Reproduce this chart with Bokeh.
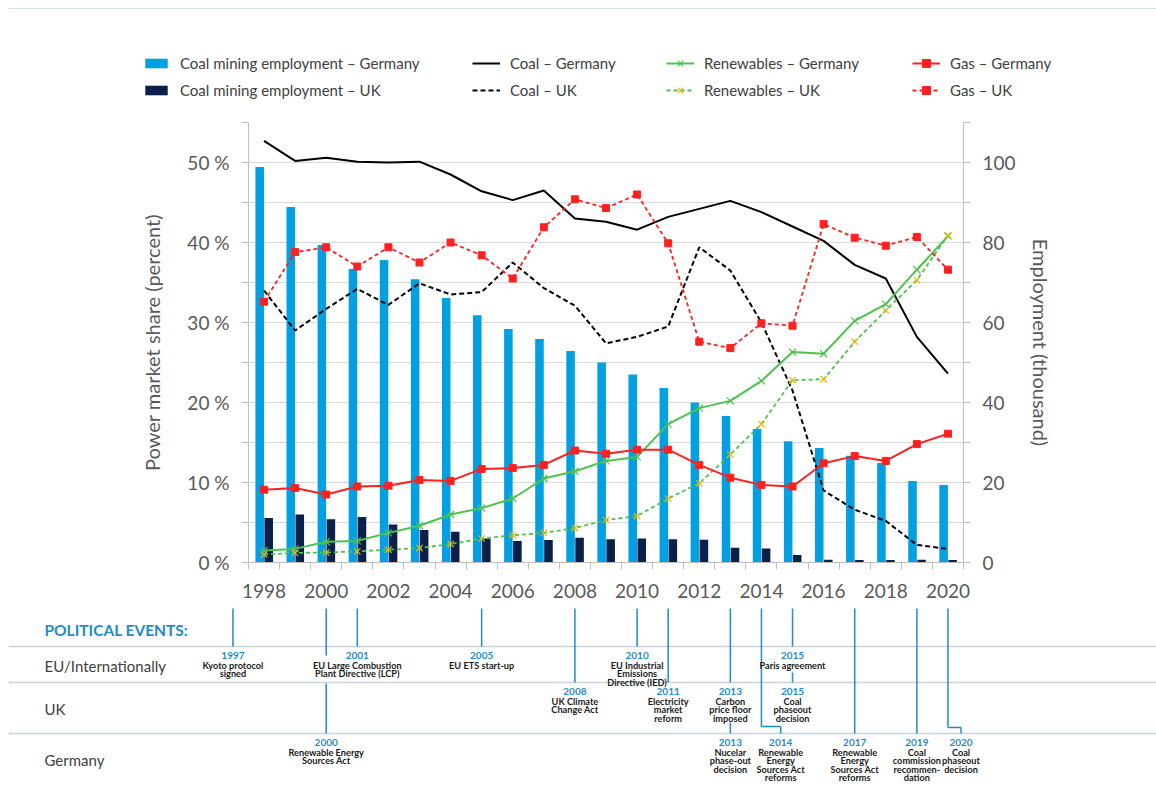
from bokeh.plotting import figure
from bokeh.models import (Range1d, LinearAxis, FixedTicker, Legend, LegendItem,
                          PrintfTickFormatter, ColumnDataSource)
from bokeh.transform import dodge
from bokeh.embed import file_html
from bokeh.resources import INLINE
from bokeh.core.properties import value

# ---------------- data ----------------
years = list(range(1998, 2021))
coal_de = [52.7, 50.2, 50.6, 50.1, 50.0, 50.1, 48.5, 46.4, 45.3, 46.5, 43.0, 42.6,
           41.6, 43.2, 44.2, 45.2, 43.8, 42.0, 40.2, 37.2, 35.5, 28.2, 23.6]
coal_uk = [34.0, 29.0, 31.7, 34.2, 32.2, 34.9, 33.5, 33.8, 37.5, 34.3, 32.1, 27.4,
           28.2, 29.5, 39.4, 36.5, 30.0, 21.5, 9.0, 6.6, 5.2, 2.2, 1.7]
ren_de = [1.5, 1.7, 2.6, 2.7, 3.7, 4.6, 6.0, 6.8, 8.0, 10.5, 11.4, 12.7,
          13.2, 17.3, 19.3, 20.2, 22.7, 26.3, 26.1, 30.2, 32.3, 36.6, 40.8]
ren_uk = [1.0, 1.2, 1.25, 1.4, 1.6, 1.8, 2.3, 3.0, 3.4, 3.7, 4.3, 5.3,
          5.8, 8.0, 9.9, 13.5, 17.3, 22.8, 22.9, 27.6, 31.5, 35.3, 40.9]
gas_de = [9.1, 9.3, 8.5, 9.5, 9.6, 10.3, 10.2, 11.7, 11.8, 12.2, 14.0, 13.6,
          14.1, 14.1, 12.2, 10.6, 9.7, 9.5, 12.4, 13.3, 12.7, 14.8, 16.1]
gas_uk = [32.6, 38.8, 39.4, 37.0, 39.4, 37.5, 40.0, 38.4, 35.5, 41.9, 45.4, 44.3,
          46.0, 39.9, 27.6, 26.8, 29.9, 29.6, 42.3, 40.6, 39.6, 40.7, 36.6]
emp_de = [98.9, 88.9, 79.4, 73.4, 75.6, 70.8, 66.1, 61.8, 58.4, 55.9, 52.9, 50.0,
          47.0, 43.6, 40.0, 36.6, 33.4, 30.3, 28.6, 26.7, 24.9, 20.4, 19.4]
emp_uk = [11.1, 12.0, 10.8, 11.4, 9.5, 8.1, 7.7, 6.0, 5.4, 5.6, 6.2, 5.8,
          6.0, 5.8, 5.7, 3.7, 3.5, 1.9, 0.7, 0.6, 0.6, 0.7, 0.6]

share_ticks = [0, 10, 20, 30, 40, 50]
emp_ticks = [0, 20, 40, 60, 80, 100]
year_labels = years[::2]

ev_year = [1997, 2001, 2005, 2010, 2015,
           2008, 2011, 2013, 2015,
           2000, 2013, 2014, 2017, 2019, 2020]
ev_row = ["EU", "EU", "EU", "EU", "EU",
          "UK", "UK", "UK", "UK",
          "DE", "DE", "DE", "DE", "DE", "DE"]
ev_text = ["Kyoto protocol\nsigned",
           "EU Large Combustion\nPlant Directive (LCP)",
           "EU ETS start-up",
           "EU Industrial\nEmissions\nDirective (IED)",
           "Paris agreement",
           "UK Climate\nChange Act",
           "Electricity\nmarket\nreform",
           "Carbon\nprice floor\nimposed",
           "Coal\nphaseout\ndecision",
           "Renewable Energy\nSources Act",
           "Nucelar\nphase-out\ndecision",
           "Renewable\nEnergy\nSources Act\nreforms",
           "Renewable\nEnergy\nSources Act\nreforms",
           "Coal\ncommission\nrecommen-\ndation",
           "Coal\nphaseout\ndecision"]
row_keys = ["EU", "UK", "DE"]
row_names = ["EU/Internationally", "UK", "Germany"]

# ---------------- style / layout ----------------
FONT = "Lato"
TXT = "#595959"
DARK = "#404040"
AXC = "#bfbfbf"
GRID = "#d9d9d9"
BLUE_DE = "#00a0e3"
NAVY_UK = "#0b1f4b"
GREEN = "#4dc34d"
YELLOW = "#f0b400"
RED = "#ff2020"
EVBLUE = "#1f8cc6"
FRAME = "#d3e6ec"

W = 1156
H0 = 110             # legend strip
H1 = 490             # main chart
H2 = 200             # events strip
BL, BR, BT, BB = 248, 193, 12, 36
X0, X1 = 1997.5, 2020.5
PXY = (W - BL - BR) / (X1 - X0)

src = ColumnDataSource(dict(year=years, coal_de=coal_de, coal_uk=coal_uk,
                            ren_de=ren_de, ren_uk=ren_uk, gas_de=gas_de,
                            gas_uk=gas_uk, emp_de=emp_de, emp_uk=emp_uk))

# ---------------- main chart ----------------
p = figure(width=W, height=H1, x_range=Range1d(X0, X1), y_range=Range1d(0, 55),
           min_border_left=BL, min_border_right=BR, min_border_top=BT,
           min_border_bottom=BB, toolbar_location=None, output_backend="svg",
           outline_line_color=None)
p.extra_y_ranges = {"emp": Range1d(0, 110)}

xa = p.xaxis[0]
xa.ticker = FixedTicker(ticks=year_labels,
                        minor_ticks=[y - 0.5 for y in years] + [years[-1] + 0.5])
xa.major_tick_out = 0
xa.major_tick_in = 0
xa.minor_tick_out = 7
xa.minor_tick_in = 0
xa.axis_line_color = AXC
xa.minor_tick_line_color = AXC
xa.major_label_text_font = FONT
xa.major_label_text_font_size = "19px"
xa.major_label_text_color = TXT
xa.major_label_standoff = 14

ya = p.yaxis[0]
ya.ticker = FixedTicker(ticks=share_ticks, minor_ticks=[5, 15, 25, 35, 45, 55])
ya.formatter = PrintfTickFormatter(format="%d %%")
ya.axis_label = "Power market share (percent)"

ra = LinearAxis(y_range_name="emp",
                ticker=FixedTicker(ticks=emp_ticks, minor_ticks=[10, 30, 50, 70, 90, 110]),
                axis_label="Employment (thousand)")
p.add_layout(ra, "right")

for ax in (ya, ra):
    ax.major_tick_out = 7
    ax.major_tick_in = 0
    ax.minor_tick_out = 7
    ax.minor_tick_in = 0
    ax.axis_line_color = AXC
    ax.major_tick_line_color = AXC
    ax.minor_tick_line_color = AXC
    ax.major_label_text_font = FONT
    ax.major_label_text_font_size = "19px"
    ax.major_label_text_color = TXT
    ax.axis_label_text_font = FONT
    ax.axis_label_text_font_size = "20px"
    ax.axis_label_text_font_style = "normal"
    ax.axis_label_text_color = TXT
    ax.major_label_standoff = 12
ya.axis_label_standoff = 20
ra.axis_label_standoff = 10

p.xgrid.visible = False
p.ygrid.ticker = FixedTicker(ticks=list(range(0, 55, 5)))
p.ygrid.grid_line_color = GRID

BAR_DE = dict(fill_color=BLUE_DE, line_color=None)
BAR_UK = dict(fill_color=NAVY_UK, line_color=None)
COAL_DE = dict(line_color="black", line_width=2)
COAL_UK = dict(line_color="black", line_width=2, line_dash="5 3")
REN_DE = dict(line_color=GREEN, line_width=2)
REN_UK = dict(line_color=GREEN, line_width=1.8, line_dash="4 3")
GAS_DE = dict(line_color=RED, line_width=2)
GAS_UK = dict(line_color=RED, line_width=1.8, line_dash="4 3")
MK_REN_DE = dict(marker="x", size=10, line_color=GREEN, line_width=1.2)
MK_REN_UK = dict(marker="x", size=9, line_color=YELLOW, line_width=1.2)
MK_GAS = dict(marker="square", size=7, fill_color=RED, line_color=RED)

p.vbar(x=dodge("year", -0.14), top="emp_de", width=0.275, source=src,
       y_range_name="emp", **BAR_DE)
p.vbar(x=dodge("year", 0.15), top="emp_uk", width=0.275, source=src,
       y_range_name="emp", **BAR_UK)
p.line("year", "coal_de", source=src, **COAL_DE)
p.line("year", "coal_uk", source=src, **COAL_UK)
p.line("year", "ren_de", source=src, **REN_DE)
p.scatter("year", "ren_de", source=src, **MK_REN_DE)
p.line("year", "ren_uk", source=src, **REN_UK)
p.scatter("year", "ren_uk", source=src, **MK_REN_UK)
p.line("year", "gas_de", source=src, **GAS_DE)
p.scatter("year", "gas_de", source=src, **MK_GAS)
p.line("year", "gas_uk", source=src, **GAS_UK)
p.scatter("year", "gas_uk", source=src, **MK_GAS)

# ---------------- legend strip ----------------
lgf = figure(width=W, height=H0, x_range=Range1d(0, W), y_range=Range1d(H0, 0),
             min_border=0, toolbar_location=None, output_backend="svg",
             outline_line_color=None)
lgf.axis.visible = False
lgf.grid.visible = False
# page frame line at the top
lgf.segment(x0=[8], y0=[8], x1=[W], y1=[8], line_color=FRAME, line_width=1)

# legend-only renderers: one point placed outside the visible strip
off = ColumnDataSource(dict(x=[-500], y=[-500], top=[-500]))
g_bde = lgf.vbar(x="x", top="top", width=1, source=off, **BAR_DE)
g_buk = lgf.vbar(x="x", top="top", width=1, source=off, **BAR_UK)
g_cde = lgf.line("x", "y", source=off, **COAL_DE)
g_cuk = lgf.line("x", "y", source=off, **COAL_UK)
g_rde = lgf.line("x", "y", source=off, **REN_DE)
g_rdem = lgf.scatter("x", "y", source=off, **MK_REN_DE)
g_ruk = lgf.line("x", "y", source=off, **REN_UK)
g_rukm = lgf.scatter("x", "y", source=off, **MK_REN_UK)
g_gde = lgf.line("x", "y", source=off, **GAS_DE)
g_gdem = lgf.scatter("x", "y", source=off, **MK_GAS)
g_guk = lgf.line("x", "y", source=off, **GAS_UK)
g_gukm = lgf.scatter("x", "y", source=off, **MK_GAS)

LEG_BOTTOM = 100


def add_legend(items, page_x, gh):
    lg = Legend(items=items, location=(page_x, H0 - LEG_BOTTOM),
                orientation="vertical", glyph_width=28, glyph_height=gh,
                label_height=20, label_standoff=10, spacing=7, padding=0,
                margin=0, border_line_color=None, background_fill_alpha=0,
                label_text_font=FONT, label_text_font_size="15px",
                label_text_color=DARK)
    lgf.add_layout(lg)


add_legend([LegendItem(label="Coal mining employment – Germany", renderers=[g_bde]),
            LegendItem(label="Coal mining employment – UK", renderers=[g_buk])], 142, 12)
add_legend([LegendItem(label="Coal – Germany", renderers=[g_cde]),
            LegendItem(label="Coal – UK", renderers=[g_cuk])], 472, 20)
add_legend([LegendItem(label="Renewables – Germany", renderers=[g_rde, g_rdem]),
            LegendItem(label="Renewables – UK", renderers=[g_ruk, g_rukm])], 666, 20)
add_legend([LegendItem(label="Gas – Germany", renderers=[g_gde, g_gdem]),
            LegendItem(label="Gas – UK", renderers=[g_guk, g_gukm])], 912, 20)

# ---------------- political events strip ----------------
TOP = H0 + H1
EX0 = X0 - BL / PXY
EX1 = X1 + BR / PXY


def px2x(px):
    return EX0 + px / PXY


q = figure(width=W, height=H2, x_range=Range1d(EX0, EX1),
           y_range=Range1d(TOP + H2, TOP), min_border=0, toolbar_location=None,
           output_backend="svg", outline_line_color=None)
q.axis.visible = False
q.grid.visible = False

ROW_TOP = {"EU": 646, "UK": 682, "DE": 733}
ROW_LABEL_Y = {"EU": 665, "UK": 708, "DE": 759}
LABEL_SHIFT = {(2014, "DE"): 0.62, (2020, "DE"): 0.42}
LINE_START = {(2015, "UK"): 672, (2013, "DE"): 722}
GAP = {(2000, "DE"): (655, 683)}
JOG = {(2014, "DE"): 726, (2020, "DE"): 727}
LINE_TOP = 608

q.segment(x0=[px2x(8)] * 3, x1=[px2x(1156)] * 3, y0=[ROW_TOP[k] for k in row_keys],
          y1=[ROW_TOP[k] for k in row_keys], line_color="#c8d3da", line_width=1.5)

sx0, sx1, sy0, sy1 = [], [], [], []
yr_x, yr_y, yr_t = [], [], []
tx_x, tx_y, tx_t = [], [], []
for yr, row, txt in zip(ev_year, ev_row, ev_text):
    key = (yr, row)
    bottom = ROW_TOP[row]
    start = LINE_START.get(key, LINE_TOP)
    lx = yr + LABEL_SHIFT.get(key, 0)
    if key in JOG:
        jy = JOG[key]
        sx0 += [yr, yr, lx]; sx1 += [yr, lx, lx]
        sy0 += [start, jy, jy]; sy1 += [jy, jy, bottom]
    elif key in GAP:
        g0, g1 = GAP[key]
        sx0 += [yr, yr]; sx1 += [yr, yr]
        sy0 += [start, g1]; sy1 += [g0, bottom]
    else:
        sx0.append(yr); sx1.append(yr); sy0.append(start); sy1.append(bottom)
    yr_x.append(lx); yr_y.append(bottom + 9); yr_t.append(str(yr))
    for i, line in enumerate(txt.split("\n")):
        tx_x.append(lx); tx_y.append(bottom + 19 + 8.4 * i); tx_t.append(line)

q.segment(x0=sx0, x1=sx1, y0=sy0, y1=sy1, line_color=EVBLUE, line_width=1.5)
q.text(x=yr_x, y=yr_y, text=yr_t, text_font=value(FONT), text_font_style="bold",
       text_font_size="10px", text_color=EVBLUE, text_align="center",
       text_baseline="middle")
q.text(x=tx_x, y=tx_y, text=tx_t, text_font=value(FONT), text_font_style="bold",
       text_font_size="9.2px", text_color="#1a1a1a", text_align="center",
       text_baseline="middle")

q.text(x=[px2x(44)], y=[629], text=["POLITICAL EVENTS:"], text_font=value(FONT),
       text_font_style="bold", text_font_size="15.5px", text_color=EVBLUE,
       text_align="left", text_baseline="middle")
q.text(x=[px2x(44)] * 3, y=[ROW_LABEL_Y[k] for k in row_keys], text=row_names,
       text_font=value(FONT), text_font_size="15px", text_color=DARK,
       text_align="left", text_baseline="middle")

open("out.html", "w").write(file_html([lgf, p, q], INLINE))
